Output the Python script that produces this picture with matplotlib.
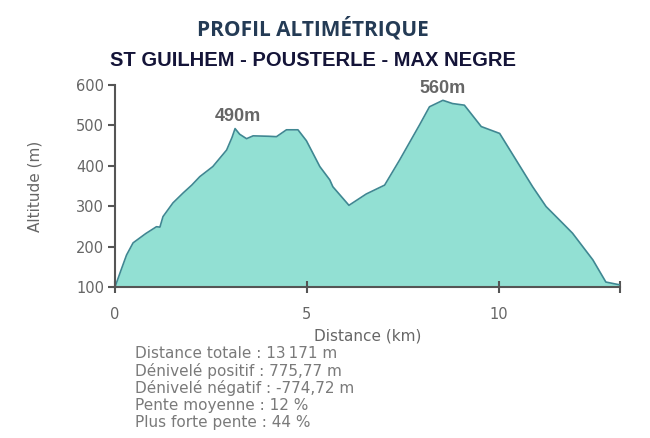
import matplotlib
matplotlib.use("Agg")
import matplotlib.pyplot as plt
import numpy as np

# profil (distance km, altitude m)
dist = [0.0, 0.15, 0.3, 0.47, 0.8, 1.08, 1.17, 1.25, 1.51, 1.78, 2.0, 2.21, 2.55,
        2.91, 3.05, 3.13, 3.25, 3.43, 3.6, 4.0, 4.21, 4.47, 4.77, 4.99, 5.16,
        5.34, 5.6, 5.68, 6.1, 6.55, 7.03, 7.42, 7.94, 8.2, 8.55, 8.8, 9.11, 9.55,
        10.03, 10.46, 10.89, 11.24, 11.67, 11.93, 12.46, 12.8, 13.06, 13.171]
alt = [100, 140, 179, 209, 232, 249, 248, 274, 308, 333, 352, 373, 398,
       439, 470, 492, 478, 467, 474, 473, 472, 489, 489, 462, 431,
       398, 365, 348, 302, 330, 352, 414, 501, 546, 562, 554, 550, 497,
       480, 414, 348, 299, 258, 233, 167, 112, 107, 105]

xticks = [0, 5, 10, 13.171]
xticklabels = ["0", "5", "10", ""]
yticks = [100, 200, 300, 400, 500, 600]

pics = [(3.2, 490, "490m"), (8.55, 560, "560m")]

stats = ["Distance totale : 13\u2009171 m",
         "Dénivelé positif : 775,77 m",
         "Dénivelé négatif : -774,72 m",
         "Pente moyenne : 12 %",
         "Plus forte pente : 44 %"]

fig = plt.figure(figsize=(6.5, 4.38), dpi=100)
ax = fig.add_axes([0.177, 0.345, 0.777, 0.461])

ax.fill_between(dist, alt, 100, color="#92e0d3", lw=0)
ax.plot(dist, alt, color="#3f8792", lw=1.2)

ax.set_xlim(0, 13.171)
ax.set_ylim(100, 600)
ax.set_xticks(xticks)
ax.set_xticklabels(xticklabels)
ax.set_yticks(yticks)

for s in ["top", "right"]:
    ax.spines[s].set_visible(False)
for s in ["left", "bottom"]:
    ax.spines[s].set_color("#555555")
    ax.spines[s].set_linewidth(1.5)

ax.tick_params(axis="y", direction="out", length=5, width=1.5, colors="#555555",
               labelsize=10.5, labelcolor="#666666", pad=3)
ax.tick_params(axis="x", direction="inout", length=9, width=1.5, colors="#555555",
               labelsize=10.5, labelcolor="#666666", pad=10)

ax.set_xlabel("Distance (km)", fontsize=11, color="#666666", labelpad=5)
ax.set_ylabel("Altitude (m)", fontsize=11, color="#666666", labelpad=24)

for x, y, lab in pics:
    ax.text(x, y + 10, lab, ha="center", va="bottom", fontsize=13,
            fontweight="bold", color="#666666", family="Liberation Sans")

fig.text(0.482, 0.935, "PROFIL ALTIMÉTRIQUE", ha="center", va="center",
         fontsize=15, fontweight="bold", color="#243b55", family="Open Sans")
fig.text(0.482, 0.862, "ST GUILHEM - POUSTERLE - MAX NEGRE", ha="center",
         va="center", fontsize=14.5, fontweight="bold", color="#141438",
         family="Liberation Sans")

for i, line in enumerate(stats):
    fig.text(0.208, 0.193 - i * 0.0395, line, ha="left", va="center",
             fontsize=11, color="#7a7a7a")

fig.savefig("out.png", dpi=100)
